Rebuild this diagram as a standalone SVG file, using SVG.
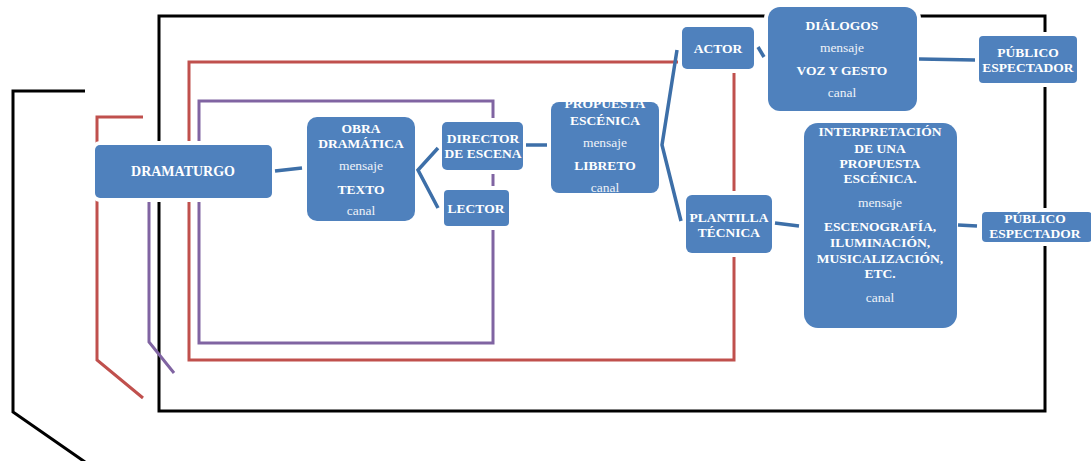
<svg xmlns="http://www.w3.org/2000/svg" width="1091" height="461" viewBox="0 0 1091 461">
<style>
.frame{fill:none;stroke-width:3;stroke-linejoin:miter}
.blk{stroke:#000}
.red{stroke:#C0504D}
.pur{stroke:#8064A2}
.box{fill:#4F81BD;stroke:#fff;stroke-width:8;paint-order:stroke}
.conn{fill:none;stroke:#3D6FA8;stroke-width:3.5;stroke-linecap:butt}
text{font-family:"Liberation Serif","Times New Roman",serif;fill:#fff;text-anchor:middle}
.b{font-weight:bold;font-size:13.5px}
.r{font-size:13.5px;fill:#EEF2F8}
</style>
<g id="frames">
<rect class="frame blk" x="159" y="16" width="886" height="395"/>
<rect class="frame red" x="189" y="62" width="545" height="298"/>
<rect class="frame pur" x="199" y="101" width="294" height="242"/>
<polyline class="frame blk" points="85,91 13,91 13,412 85,462"/>
<polyline class="frame red" points="143,117 97,117 97,360 143,398"/>
<polyline class="frame pur" points="149,170 149,342 174,373"/>
</g>
<g id="dramaturgo">
<rect class="box" x="95" y="145" width="177" height="53" rx="5"/>
<text class="b" x="183" y="176" style="font-size:14px">DRAMATURGO</text>
</g>
<g id="obra">
<rect class="box" x="307" y="117" width="108" height="104" rx="10"/>
<text class="b" x="361" y="133">OBRA</text>
<text class="b" x="361" y="148">DRAMÁTICA</text>
<text class="r" x="361" y="170">mensaje</text>
<text class="b" x="361" y="194">TEXTO</text>
<text class="r" x="361" y="215">canal</text>
</g>
<g id="director">
<rect class="box" x="442" y="122" width="81" height="48" rx="5"/>
<text class="b" x="483" y="143">DIRECTOR</text>
<text class="b" x="483" y="158">DE ESCENA</text>
</g>
<g id="lector">
<rect class="box" x="444" y="190" width="65" height="36" rx="4"/>
<text class="b" x="476" y="213">LECTOR</text>
</g>
<g id="propuesta">
<rect class="box" x="551" y="102" width="108" height="91" rx="8"/>
<text class="b" x="605" y="108">PROPUESTA</text>
<text class="b" x="605" y="125">ESCÉNICA</text>
<text class="r" x="605" y="147">mensaje</text>
<text class="b" x="605" y="170">LIBRETO</text>
<text class="r" x="605" y="192">canal</text>
</g>
<g id="actor">
<rect class="box" x="682" y="27" width="72" height="42" rx="5"/>
<text class="b" x="718" y="53">ACTOR</text>
</g>
<g id="plantilla">
<rect class="box" x="686" y="195" width="86" height="58" rx="6"/>
<text class="b" x="729" y="222">PLANTILLA</text>
<text class="b" x="729" y="237">TÉCNICA</text>
</g>
<g id="dialogos">
<rect class="box" x="768" y="7" width="149" height="104" rx="12"/>
<text class="b" x="842" y="30">DIÁLOGOS</text>
<text class="r" x="842" y="52">mensaje</text>
<text class="b" x="842" y="75">VOZ Y GESTO</text>
<text class="r" x="842" y="97">canal</text>
</g>
<g id="publico1">
<rect class="box" x="979" y="36" width="98" height="47" rx="4"/>
<text class="b" x="1028" y="57">PÚBLICO</text>
<text class="b" x="1028" y="72">ESPECTADOR</text>
</g>
<g id="interpretacion">
<rect class="box" x="804" y="123" width="153" height="205" rx="14"/>
<text class="b" x="880" y="136">INTERPRETACIÓN</text>
<text class="b" x="880" y="153">DE UNA</text>
<text class="b" x="880" y="168">PROPUESTA</text>
<text class="b" x="880" y="183">ESCÉNICA.</text>
<text class="r" x="880" y="207">mensaje</text>
<text class="b" x="880" y="231">ESCENOGRAFÍA,</text>
<text class="b" x="880" y="247">ILUMINACIÓN,</text>
<text class="b" x="880" y="263">MUSICALIZACIÓN,</text>
<text class="b" x="880" y="278">ETC.</text>
<text class="r" x="880" y="302">canal</text>
</g>
<g id="publico2">
<rect class="box" x="982" y="212" width="110" height="30" rx="4"/>
<text class="b" x="1035" y="223">PÚBLICO</text>
<text class="b" x="1035" y="238">ESPECTADOR</text>
</g>
<g id="connectors">
<line class="conn" x1="275" y1="171" x2="302" y2="168"/>
<polyline class="conn" points="438,148 418,170 438,208"/>
<line class="conn" x1="526" y1="145" x2="547" y2="145"/>
<polyline class="conn" points="677,50 662,145 681,221"/>
<line class="conn" x1="758" y1="47" x2="764" y2="57"/>
<line class="conn" x1="919" y1="59" x2="975" y2="60"/>
<line class="conn" x1="775" y1="223" x2="799" y2="226"/>
<line class="conn" x1="958" y1="225" x2="977" y2="226"/>
</g>
</svg>
